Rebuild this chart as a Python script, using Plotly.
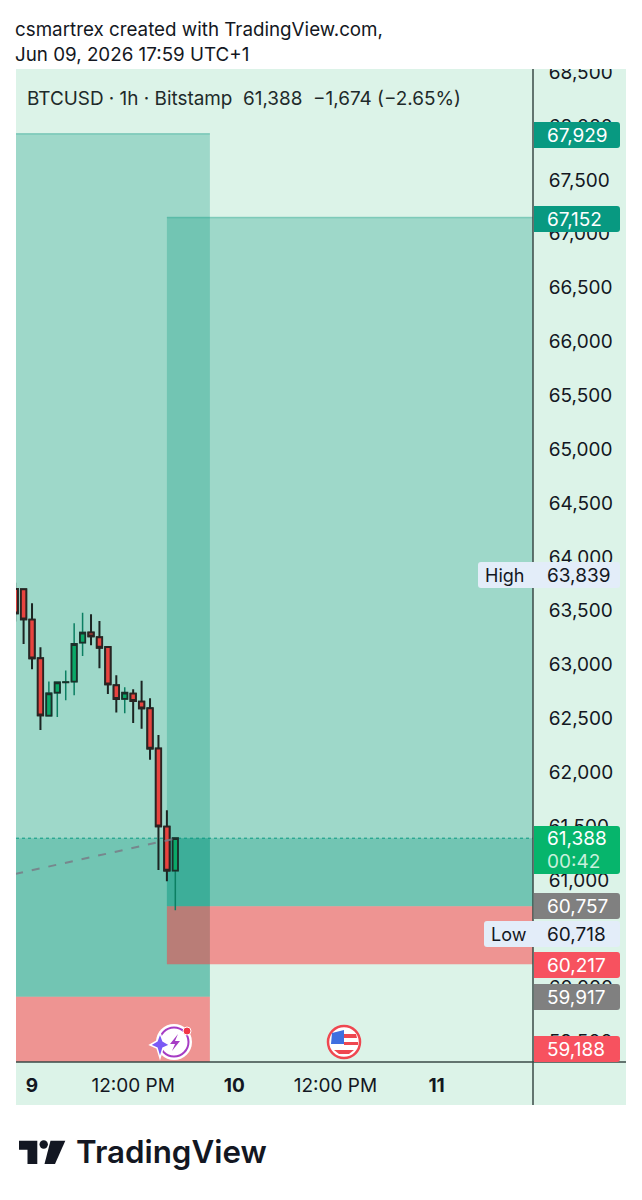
import plotly.graph_objects as go

W, H = 642, 1200

# hourly candles
times = ["2026-06-08 22:00", "2026-06-08 23:00", "2026-06-09 00:00", "2026-06-09 01:00", "2026-06-09 02:00",
         "2026-06-09 03:00", "2026-06-09 04:00", "2026-06-09 05:00", "2026-06-09 06:00", "2026-06-09 07:00",
         "2026-06-09 08:00", "2026-06-09 09:00", "2026-06-09 10:00", "2026-06-09 11:00", "2026-06-09 12:00",
         "2026-06-09 13:00", "2026-06-09 14:00", "2026-06-09 15:00", "2026-06-09 16:00", "2026-06-09 17:00"]
opens = [63702, 63699, 63417, 63058, 62526, 62739, 62835, 62842, 63204, 63297,
         63253, 63163, 62807, 62681, 62730, 62656, 62594, 62220, 61495, 61087]
highs = [63760, 63699, 63569, 63160, 62842, 62835, 62944, 63383, 63482, 63467,
         63405, 63163, 62900, 62789, 62770, 62851, 62687, 62346, 61647, 61388]
lows = [63400, 63191, 62956, 62393, 62526, 62513, 62668, 62715, 63080, 63179,
        62965, 62727, 62554, 62548, 62458, 62405, 62117, 61093, 60988, 60718]
closes = [63476, 63420, 63058, 62529, 62733, 62835, 62838, 63191, 63297, 63262,
          63157, 62817, 62681, 62739, 62662, 62594, 62220, 61498, 61087, 61388]

last_price = 61388

# the two long position tools
left_start, left_end = "2026-06-08 12:00", "2026-06-09 21:06"
left_target, left_entry, left_stop = 67929, 59917, 59188
right_start, right_end = "2026-06-09 16:00", "2026-06-12 12:00"
right_target, right_entry, right_stop = 67152, 60757, 60217

trend_x = ["2026-06-08 22:00", "2026-06-09 17:00"]
trend_y = [61056, 61385]

price_ticks = [68500, 68000, 67500, 67000, 66500, 66000, 65500, 65000, 64500, 64000,
               63500, 63000, 62500, 62000, 61500, 61000, 60500, 60000, 59500]
time_ticks = ["2026-06-09 00:00", "2026-06-09 12:00", "2026-06-10 00:00", "2026-06-10 12:00", "2026-06-11 00:00"]
time_labels = ["<b>9</b>", "12:00 PM", "<b>10</b>", "12:00 PM", "<b>11</b>"]

x_range = ["2026-06-08 22:06", "2026-06-11 11:26"]
y_range = [59310, 68530]

BG = "#dcf3e8"
ZONE_GREEN = "rgba(8,153,129,0.29)"
ZONE_RED = "rgba(255,54,60,0.5)"
INK = "#131722"
FONT = "Inter"


def px(x):
    return x / W


def py(y):
    return 1 - y / H


def poly(points):
    return "M " + " L ".join(f"{px(x):.5f} {py(y):.5f}" for x, y in points) + " Z"


def rounded(x0, y0, x1, y1, r=3, left=True):
    rl = r if left else 0
    return (f"M {px(x0 + rl):.5f} {py(y0):.5f} L {px(x1 - r):.5f} {py(y0):.5f} "
            f"Q {px(x1):.5f} {py(y0):.5f} {px(x1):.5f} {py(y0 + r):.5f} "
            f"L {px(x1):.5f} {py(y1 - r):.5f} Q {px(x1):.5f} {py(y1):.5f} {px(x1 - r):.5f} {py(y1):.5f} "
            f"L {px(x0 + rl):.5f} {py(y1):.5f} Q {px(x0):.5f} {py(y1):.5f} {px(x0):.5f} {py(y1 - rl):.5f} "
            f"L {px(x0):.5f} {py(y0 + rl):.5f} Q {px(x0):.5f} {py(y0):.5f} {px(x0 + rl):.5f} {py(y0):.5f} Z")


shapes = []
annotations = []


def zone(x0, x1, y0, y1, color):
    shapes.append(dict(type="rect", xref="x", yref="y", x0=x0, x1=x1, y0=y0, y1=y1,
                       fillcolor=color, line_width=0, layer="below"))


def paper_shape(path, color, line=None, width=0, layer="above"):
    shapes.append(dict(type="path", xref="paper", yref="paper", path=path, fillcolor=color,
                       line=dict(color=line or color, width=width), layer=layer))


def circle(cx, cy, r, fill, line=None, width=0):
    shapes.append(dict(type="circle", xref="paper", yref="paper", x0=px(cx - r), x1=px(cx + r),
                       y0=py(cy + r), y1=py(cy - r), fillcolor=fill,
                       line=dict(color=line or fill, width=width), layer="above"))


def text(x, y, s, size=19, color=INK, anchor="left", weight=None):
    annotations.append(dict(xref="paper", yref="paper", x=px(x), y=py(y), text=s, showarrow=False,
                            xanchor=anchor, yanchor="middle", align=anchor, borderpad=0, borderwidth=0,
                            font=dict(family=FONT, size=size, color=color, weight=weight)))


# chart panel
shapes.append(dict(type="rect", xref="paper", yref="paper", x0=px(16), x1=px(626), y0=py(1105), y1=py(69),
                   fillcolor=BG, line_width=0, layer="below"))

# position zones
zone(left_start, left_end, left_entry, left_target, ZONE_GREEN)
zone(left_start, left_end, left_entry, last_price, ZONE_GREEN)
zone(left_start, left_end, left_stop, left_entry, ZONE_RED)
zone(right_start, right_end, right_entry, right_target, ZONE_GREEN)
zone(right_start, right_end, right_entry, last_price, ZONE_GREEN)
zone(right_start, right_end, right_stop, right_entry, ZONE_RED)
for x0, x1, y in [(left_start, left_end, left_target), (right_start, right_end, right_target)]:
    shapes.append(dict(type="line", xref="x", yref="y", x0=x0, x1=x1, y0=y, y1=y,
                       line=dict(color="rgba(8,153,129,0.35)", width=1.5), layer="below"))
shapes.append(dict(type="line", xref="x", yref="y", x0=x_range[0], x1=x_range[1], y0=last_price, y1=last_price,
                   line=dict(color="#089981", width=1, dash="dot"), layer="below"))

fig = go.Figure()

fig.add_trace(go.Scatter(x=trend_x, y=trend_y, mode="lines", hoverinfo="skip",
                         line=dict(color="rgba(120,123,134,0.85)", width=2, dash="8px,9px")))

# wicks: green candles have green wicks, red ones black
fig.add_trace(go.Candlestick(x=times, open=opens, high=highs, low=lows, close=closes, hoverinfo="skip",
                             increasing=dict(line=dict(color="#0b7f62", width=1.5), fillcolor="#0aa868"),
                             decreasing=dict(line=dict(color="#1c2422", width=2), fillcolor="#e8443f")))
# bodies on top with the dark outline
fig.add_trace(go.Candlestick(x=times, open=opens, close=closes, hoverinfo="skip",
                             high=[max(o, c) for o, c in zip(opens, closes)],
                             low=[min(o, c) for o, c in zip(opens, closes)],
                             increasing=dict(line=dict(color="#1c2f2a", width=1.8), fillcolor="#0aa868"),
                             decreasing=dict(line=dict(color="#2a2422", width=1.8), fillcolor="#e8443f")))

# white strip so the top tick label is cut at the panel edge
shapes.append(dict(type="rect", xref="paper", yref="paper", x0=px(534), x1=px(642), y0=py(69), y1=py(50),
                   fillcolor="white", line_width=0, layer="above"))

# axis lines
for x0, y0, x1, y1 in [(16, 1062, 626, 1062), (533, 69, 533, 1105)]:
    shapes.append(dict(type="line", xref="paper", yref="paper", x0=px(x0), x1=px(x1), y0=py(y0), y1=py(y1),
                       line=dict(color="#3b4a47", width=1.5), layer="above"))

# price tags: value, centre of the tag on the axis, colour
tag_values = [67929, 67152, 60757, 60217, 59917, 59188]
tag_centres = [135, 219, 906, 965, 997, 1049]
tag_colors = ["#089981", "#089981", "#808080", "#f7525f", "#808080", "#f7525f"]
for v, yc, col in zip(tag_values, tag_centres, tag_colors):
    paper_shape(rounded(534, yc - 13, 620, yc + 13, left=False), col)
    text(547, yc, f"{v:,}", color="white")

# last price tag
paper_shape(rounded(534, 826, 620, 874, left=False), "#06b56c")
text(547, 838, f"{last_price:,}", color="white")
text(547, 861, "00:42", color="#c8f0dc")

# high / low tags
high_low = [("High", 63839, 575, 478), ("Low", 60718, 934, 484)]
for name, v, yc, x0 in high_low:
    paper_shape(rounded(x0, yc - 13, 620, yc + 13), "#e3edf9")
    text(x0 + 7, yc, name, size=18)
    text(547, yc, f"{v:,}")

# header and legend
text(15, 29, "csmartrex created with TradingView.com,", size=18.8)
text(15, 55, "Jun 09, 2026 17:59 UTC+1", size=18.8)
text(27, 98, "BTCUSD · 1h · Bitstamp&nbsp;&nbsp;61,388&nbsp;&nbsp;−1,674 (−2.65%)", size=18.9, color="#1e2a2a")

# spark icon
circle(174, 1042, 18, "white")
circle(174, 1042, 14.5, "white", line="#a63cc4", width=2)
paper_shape(poly([(160, 1033), (163, 1041), (170, 1045), (163, 1048), (160, 1058), (157, 1048), (150, 1045), (157, 1041)]),
            "#7a5af5", line="white", width=1.5)
paper_shape(poly([(178, 1034), (170, 1044), (175, 1044), (172, 1051), (180, 1041), (175, 1041)]), "#a63cc4")
circle(187, 1031, 4, "#f23645", line="white", width=1)

# flag icon
circle(344, 1042, 16, "white", line="#ef4750", width=2.5)
paper_shape(poly([(332, 1033), (344, 1030), (344, 1044), (331, 1044)]), "#3f6fe0")
paper_shape(poly([(344, 1034), (356, 1034), (357, 1038), (344, 1038)]), "#ef4750")
paper_shape(poly([(344, 1042), (358, 1042), (358, 1045), (344, 1045)]), "#ef4750")
paper_shape(poly([(334, 1050), (354, 1050), (349, 1054), (339, 1054)]), "#ef4750")

# TradingView logo
paper_shape(poly([(19, 1140.7), (37.3, 1140.7), (37.3, 1164), (27.5, 1164), (27.5, 1149.8), (19, 1149.8)]), "#131722")
circle(43.7, 1144.5, 4.2, "#131722")
paper_shape(poly([(50.5, 1140.7), (65.3, 1140.7), (55, 1164), (44.5, 1164)]), "#131722")
text(76, 1152, "TradingView", size=31.3, color="#131722", weight=600)

fig.update_layout(
    width=W, height=H, autosize=False,
    margin=dict(l=0, r=0, t=0, b=0, pad=0, autoexpand=False),
    paper_bgcolor="white", plot_bgcolor=BG,
    showlegend=False, hovermode=False, boxgap=0.1,
    font=dict(family=FONT, size=19, color=INK),
    shapes=shapes, annotations=annotations,
    xaxis=dict(domain=[px(16), px(533)], type="date", range=x_range, rangeslider_visible=False,
               showgrid=False, zeroline=False, showline=False, tickmode="array", tickvals=time_ticks,
               ticktext=time_labels, ticks="outside", ticklen=6, tickcolor="rgba(0,0,0,0)",
               tickfont=dict(family=FONT, size=19, color=INK), fixedrange=True),
    yaxis=dict(domain=[py(1062), py(69)], range=y_range, side="right", showgrid=False, zeroline=False,
               showline=False, tickmode="array", tickvals=price_ticks, tickformat=",d", ticks="outside",
               ticklen=11, tickcolor="rgba(0,0,0,0)", tickfont=dict(family=FONT, size=19, color=INK),
               fixedrange=True),
)

fig.write_html("out.html", config=dict(displayModeBar=False), post_script="document.body.style.margin='0';")
